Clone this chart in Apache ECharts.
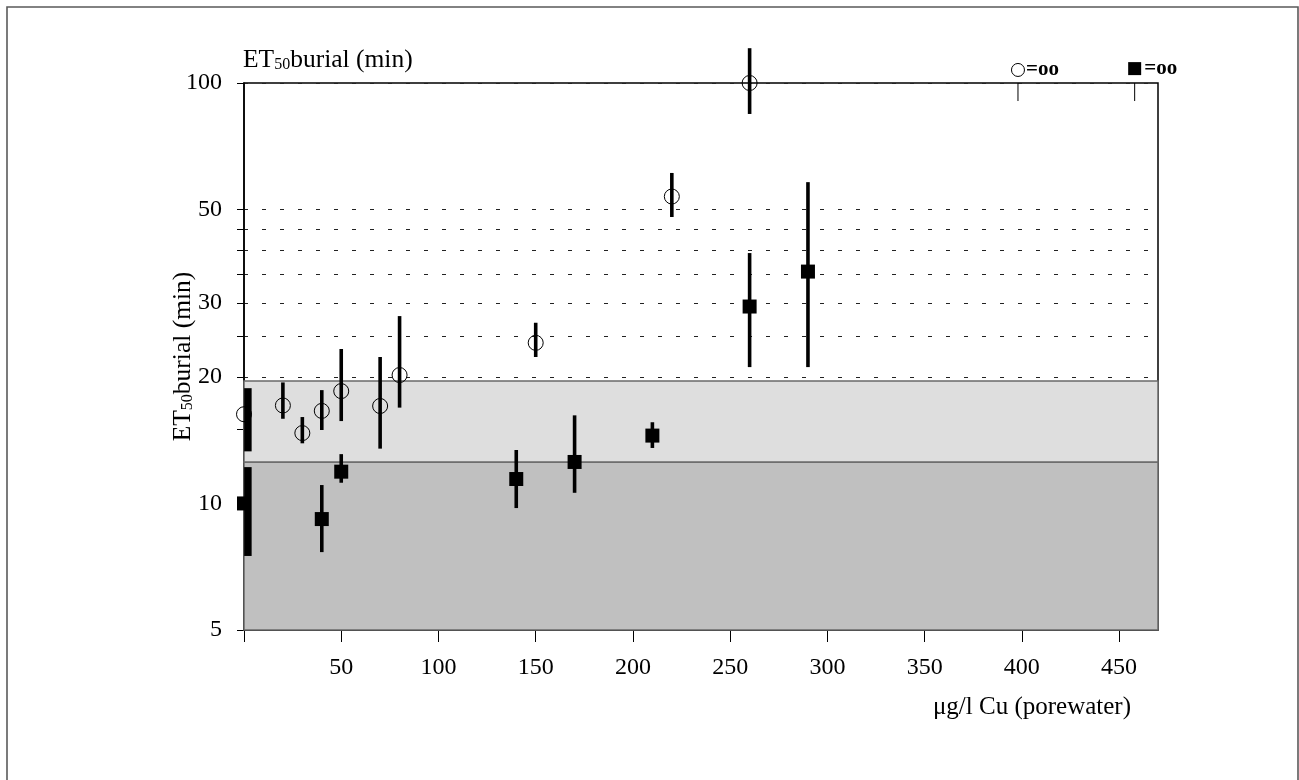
<!DOCTYPE html>
<html>
<head>
<meta charset="utf-8">
<script src="https://cdn.jsdelivr.net/npm/echarts@6/dist/echarts.min.js"></script>
<style>
html,body{margin:0;padding:0;background:#fff;}
#chart{width:1299px;height:780px;}
</style>
</head>
<body>
<div id="chart"></div>
<script>
// ---- data ----
const circleX    = [0, 20, 30, 40, 50, 70, 80, 150, 220, 260];
const circleY    = [16.3, 17.1, 14.7, 16.6, 18.5, 17.05, 20.2, 24.1, 53.7, 100];
const circleLow  = [13.3, 15.9, 13.9, 14.95, 15.7, 13.5, 16.9, 22.3, 48.0, 84.4];
const circleHigh = [18.8, 19.4, 16.05, 18.6, 23.3, 22.3, 27.9, 26.9, 61.1, 121];
const circleBarX = [2, 20, 30, 40, 50, 70, 80, 150, 220, 260];

const squareX    = [0, 40, 50, 140, 170, 210, 260, 290];
const squareY    = [10.0, 9.18, 11.9, 11.43, 12.55, 14.5, 29.4, 35.6];
const squareLow  = [7.5, 7.66, 11.2, 9.75, 10.6, 13.55, 21.1, 21.1];
const squareHigh = [12.2, 11.06, 13.1, 13.4, 16.2, 15.6, 39.4, 58.1];
const squareBarX = [2, 40, 50, 140, 170, 210, 260, 290];

// "= infinity" markers above the plot
const infCircle = [398, 107.4];
const infSquare = [458, 108.2];
const infTickX  = [398, 458];
const infTickLow = 90.6, infTickHigh = 100;

// shaded bands (min..max of ET50 ranges)
const bandLight = [12.55, 19.55];
const bandDark  = [5, 12.55];

const xTicks  = [0, 50, 100, 150, 200, 250, 300, 350, 400, 450];
const xLabels = [50, 100, 150, 200, 250, 300, 350, 400, 450];
const yTicks  = [5, 10, 15, 20, 25, 30, 35, 40, 45, 50, 100];
const yLabels = [5, 10, 20, 30, 50, 100];
const xMin = 0, xMax = 470, yMin = 5, yMax = 100;

// ---- chart ----
const FONT = "'Liberation Serif', 'Times New Roman', serif";
const chart = echarts.init(document.getElementById('chart'), null, {renderer: 'canvas'});

function barRender(params, api) {
  const x = api.value(0);
  const p1 = api.coord([x, api.value(1)]);
  const p2 = api.coord([x, api.value(2)]);
  return {
    type: 'line',
    shape: {x1: p1[0], y1: p1[1], x2: p2[0], y2: p2[1]},
    style: {stroke: '#000', lineWidth: x < 5 ? 7.5 : 3.6}
  };
}
function thinRender(params, api) {
  const x = api.value(0);
  const p1 = api.coord([x, api.value(1)]);
  const p2 = api.coord([x, api.value(2)]);
  return {
    type: 'line',
    shape: {x1: p1[0], y1: p1[1], x2: p2[0], y2: p2[1]},
    style: {stroke: '#000', lineWidth: 1}
  };
}

const richName = {
  a: {fontFamily: FONT, fontSize: 25.5, fontWeight: 'normal', color: '#000', lineHeight: 30},
  s: {fontFamily: FONT, fontSize: 16, fontWeight: 'normal', color: '#000', lineHeight: 30, padding: [9, 0, 0, 0]}
};

const option = {
  backgroundColor: '#fff',
  animation: false,
  title: [
    {
      text: '{a|ET}{s|50}{a|burial (min)}',
      left: 238, top: 40,
      textStyle: {fontWeight: 'normal', rich: richName}
    },
    {
      text: 'μg/l Cu (porewater)',
      right: 163, top: 690,
      textStyle: {fontFamily: FONT, fontSize: 25, fontWeight: 'normal', color: '#000'}
    }
  ],
  grid: {
    left: 244, top: 83, right: 141, bottom: 150,
    show: true, borderColor: '#000', borderWidth: 1.5,
    outerBoundsMode: 'none'
  },
  xAxis: {
    type: 'value', min: xMin, max: xMax,
    axisLine: {onZero: false, lineStyle: {color: '#000', width: 1.5}},
    axisTick: {customValues: xTicks, length: 12, lineStyle: {color: '#000', width: 1}},
    axisLabel: {customValues: xLabels, margin: 26, fontFamily: FONT, fontSize: 24, color: '#000'},
    splitLine: {show: false}
  },
  yAxis: {
    type: 'log', logBase: 10, min: yMin, max: yMax,
    name: '{a|ET}{s|50}{a|burial (min)}',
    nameLocation: 'middle', nameRotate: 90, nameGap: 46,
    nameMoveOverlap: false,
    nameTextStyle: {rich: richName},
    axisLine: {lineStyle: {color: '#000', width: 1.5}},
    axisTick: {customValues: yTicks, length: 7, lineStyle: {color: '#000', width: 1}},
    axisLabel: {customValues: yLabels, margin: 22, fontFamily: FONT, fontSize: 24, color: '#000'},
    splitLine: {show: true, lineStyle: {color: '#222', width: 1, type: [4, 14]}}
  },
  graphic: [
    {type: 'rect', shape: {x: 7, y: 7, width: 1291, height: 800},
     style: {fill: null, stroke: '#5a5a5a', lineWidth: 1.6}, silent: true, z: 100},
    {type: 'group', left: 901, top: 561, z: 100, children: [
      {type: 'rect', shape: {x: 0, y: 0, width: 233, height: 42},
       style: {fill: '#fff', stroke: '#333', lineWidth: 1}},
      {type: 'text', x: 116.5, y: 21,
       style: {text: 'Sandy sediment (N2)', font: "25px 'Liberation Serif'", fill: '#000',
               align: 'center', verticalAlign: 'middle'}}
    ]}
  ],
  series: [
    {
      type: 'scatter', data: [], z: -1, silent: true,
      markArea: {
        silent: true,
        data: [
          [{xAxis: xMin, yAxis: bandDark[0], itemStyle: {color: '#c0c0c0', opacity: 1, borderColor: '#6a6a6a', borderWidth: 1.5}},
           {xAxis: xMax, yAxis: bandDark[1]}],
          [{xAxis: xMin, yAxis: bandLight[0], itemStyle: {color: '#dedede', opacity: 1, borderColor: '#6a6a6a', borderWidth: 1.5}},
           {xAxis: xMax, yAxis: bandLight[1]}]
        ]
      }
    },
    {
      type: 'custom', name: 'circle bars', clip: false, z: 3,
      renderItem: barRender,
      encode: {x: 0, y: [1, 2]},
      data: circleBarX.map((x, i) => [x, circleLow[i], circleHigh[i]])
    },
    {
      type: 'custom', name: 'square bars', clip: false, z: 3,
      renderItem: barRender,
      encode: {x: 0, y: [1, 2]},
      data: squareBarX.map((x, i) => [x, squareLow[i], squareHigh[i]])
    },
    {
      type: 'scatter', name: 'squares', clip: false, z: 2,
      symbol: 'rect', symbolSize: 14,
      itemStyle: {color: '#000', opacity: 1},
      data: squareX.map((x, i) => [x, squareY[i]])
    },
    {
      type: 'scatter', name: 'circles', clip: false, z: 4,
      symbol: 'circle', symbolSize: 15,
      itemStyle: {color: 'rgba(0,0,0,0)', borderColor: '#000', borderWidth: 1, opacity: 1},
      data: circleX.map((x, i) => [x, circleY[i]])
    },
    {
      type: 'custom', name: 'inf ticks', clip: false, z: 3,
      renderItem: thinRender,
      encode: {x: 0, y: [1, 2]},
      data: infTickX.map(x => [x, infTickLow, infTickHigh])
    },
    {
      type: 'scatter', clip: false, z: 4,
      symbol: 'circle', symbolSize: 13,
      itemStyle: {color: '#fff', borderColor: '#000', borderWidth: 1, opacity: 1},
      label: {show: true, position: 'right', distance: 1, formatter: '=oo',
              fontFamily: FONT, fontSize: 21, fontWeight: 'bold', color: '#000'},
      data: [infCircle]
    },
    {
      type: 'scatter', clip: false, z: 4,
      symbol: 'rect', symbolSize: 13,
      itemStyle: {color: '#000', opacity: 1},
      label: {show: true, position: 'right', distance: 3, formatter: '=oo',
              fontFamily: FONT, fontSize: 21, fontWeight: 'bold', color: '#000'},
      data: [infSquare]
    }
  ]
};
chart.setOption(option);
</script>
</body>
</html>
